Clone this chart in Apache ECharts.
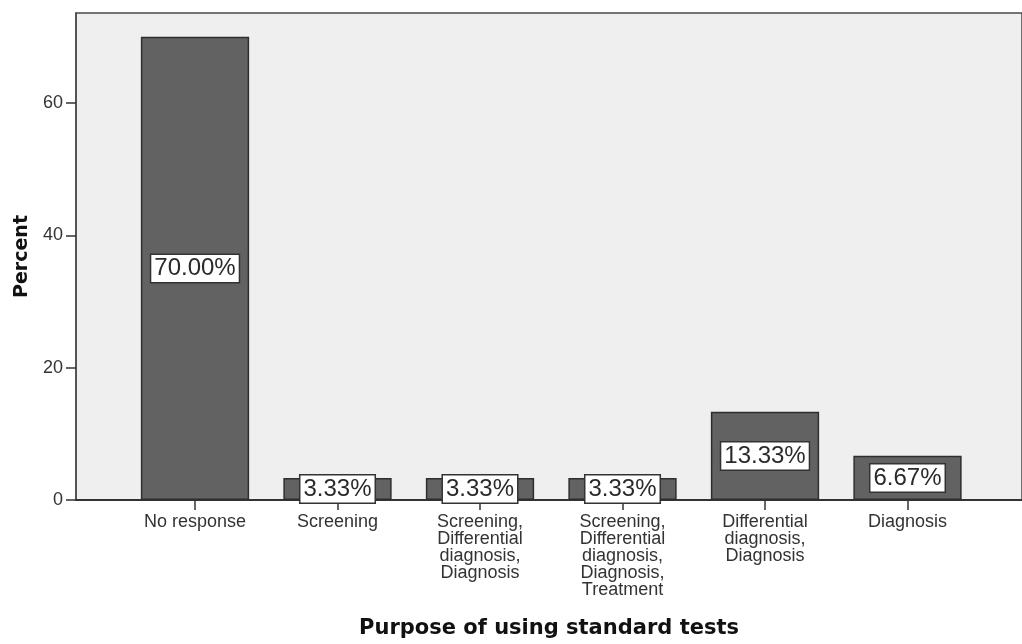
<!DOCTYPE html>
<html>
<head>
<meta charset="utf-8">
<script src="https://cdn.jsdelivr.net/npm/echarts@6/dist/echarts.min.js"></script>
<style>
html,body{margin:0;padding:0;background:#fff;}
#chart{width:1022px;height:644px;}
</style>
</head>
<body>
<div id="chart"></div>
<script>
const categories = [
  'No response',
  'Screening',
  'Screening,\nDifferential\ndiagnosis,\nDiagnosis',
  'Screening,\nDifferential\ndiagnosis,\nDiagnosis,\nTreatment',
  'Differential\ndiagnosis,\nDiagnosis',
  'Diagnosis'
];
const percentValues = [70.00, 3.33, 3.33, 3.33, 13.33, 6.67];
const yTicks = [0, 20, 40, 60];
const xTitle = 'Purpose of using standard tests';
const yTitle = 'Percent';

const chart = echarts.init(document.getElementById('chart'), null, {renderer: 'canvas'});
const yMax = 73.6;
const option = {
  animation: false,
  backgroundColor: '#ffffff',
  grid: [
    {left: 76, right: -3, top: 13, bottom: 144, show: true, backgroundColor: '#efefef', borderColor: '#4a4a4a', borderWidth: 1.5},
    {left: 123.75, right: 43.25, top: 13, bottom: 144}
  ],
  xAxis: [
    {
      type: 'value', gridIndex: 0, min: 0, max: 1,
      axisLine: {show: true, lineStyle: {color: '#333', width: 2}},
      axisTick: {show: false}, axisLabel: {show: false}, splitLine: {show: false},
      name: xTitle, nameLocation: 'middle', nameGap: 118,
      nameTextStyle: {fontFamily: 'DejaVu Sans', fontWeight: 'bold', fontSize: 21, color: '#111'}
    },
    {
      type: 'category', gridIndex: 1, data: categories,
      axisLine: {show: false},
      axisTick: {show: true, alignWithLabel: true, length: 10, lineStyle: {color: '#333', width: 1.5}},
      axisLabel: {interval: 0, margin: 14, fontFamily: 'Liberation Sans', fontSize: 18, lineHeight: 17, color: '#333'}
    }
  ],
  yAxis: [
    {
      type: 'value', gridIndex: 0, min: 0, max: yMax, interval: 20,
      axisLine: {show: true, lineStyle: {color: '#4a4a4a', width: 1.5}},
      axisTick: {show: true, length: 10, customValues: yTicks, lineStyle: {color: '#333', width: 1.5}},
      axisLabel: {margin: 13, fontFamily: 'Liberation Sans', fontSize: 18, color: '#333', customValues: yTicks},
      splitLine: {show: false},
      name: yTitle, nameLocation: 'middle', nameGap: 44, nameRotate: 90,
      nameTextStyle: {fontFamily: 'DejaVu Sans', fontWeight: 'bold', fontSize: 19, color: '#111'}
    },
    {type: 'value', gridIndex: 1, min: 0, max: yMax, show: false}
  ],
  series: [{
    type: 'bar', xAxisIndex: 1, yAxisIndex: 1,
    data: percentValues, barWidth: '76%',
    itemStyle: {color: '#626262', borderColor: '#2e2e2e', borderWidth: 1.5},
    label: {
      show: true, position: 'inside',
      formatter: p => p.value.toFixed(2) + '%',
      fontFamily: 'Liberation Sans', fontSize: 24, color: '#2a2a2a',
      backgroundColor: '#ffffff', borderColor: '#333', borderWidth: 1.5,
      padding: [1, 3, 0, 3], lineHeight: 26
    }
  }]
};
chart.setOption(option);
</script>
</body>
</html>
